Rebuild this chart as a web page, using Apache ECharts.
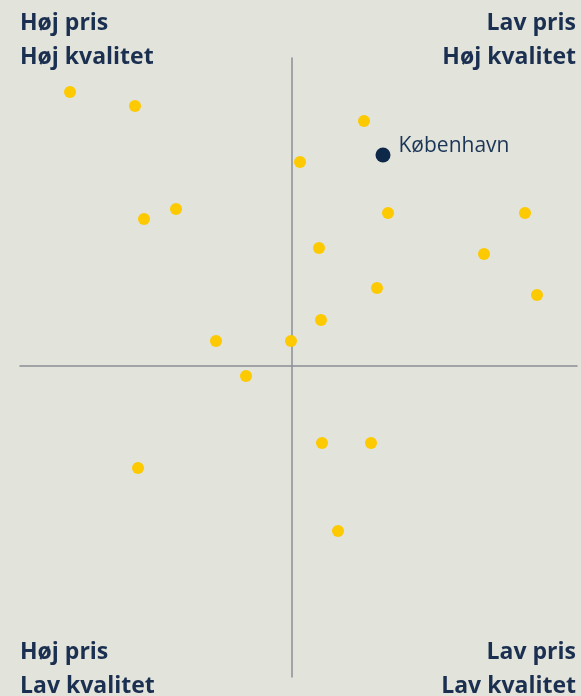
<!DOCTYPE html>
<html>
<head>
<meta charset="utf-8">
<script src="https://cdn.jsdelivr.net/npm/echarts@6/dist/echarts.min.js"></script>
<style>
html,body{margin:0;padding:0;background:#e2e3db;}
#chart{width:581px;height:696px;}
</style>
</head>
<body>
<div id="chart"></div>
<script>
// x: price position (negative = high price, positive = low price)
// y: quality position (positive = high quality)
const cityX = [-222, -157, 72, 8, -116, -148, 96, 233, 27, 192, 85, 245, 29, -76, -1, -46, 30, 79, -154, 46];
const cityY = [274, 260, 245, 204, 157, 147, 153, 153, 118, 112, 78, 71, 46, 25, 25, -10, -77, -77, -102, -165];
const highlightName = 'København';
const highlightX = [91];
const highlightY = [211];
const cornerLabels = {
  tl: ['Høj pris', 'Høj kvalitet'],
  tr: ['Lav pris', 'Høj kvalitet'],
  bl: ['Høj pris', 'Lav kvalitet'],
  br: ['Lav pris', 'Lav kvalitet']
};

const chart = echarts.init(document.getElementById('chart'));
const navy = '#1b2f50';
const font = 'bold 23px "Open Sans", sans-serif';

function txt(t, x, y, align) {
  return {type: 'text', style: {text: t, x: x, y: y, font: font, fill: navy, textAlign: align, textVerticalAlign: 'top'}};
}

chart.setOption({
  backgroundColor: '#e2e3db',
  animation: false,
  grid: {left: 20, right: 4, top: 58, bottom: 19},
  xAxis: {
    type: 'value', min: -272, max: 285,
    axisLine: {show: true, onZero: true, lineStyle: {color: '#8a8f94', width: 1.5}},
    axisTick: {show: false}, axisLabel: {show: false}, splitLine: {show: false}
  },
  yAxis: {
    type: 'value', min: -311, max: 308,
    axisLine: {show: true, onZero: true, lineStyle: {color: '#8a8f94', width: 1.5}},
    axisTick: {show: false}, axisLabel: {show: false}, splitLine: {show: false}
  },
  series: [
    {
      type: 'scatter', symbolSize: 12,
      itemStyle: {color: '#fdc900', opacity: 1},
      data: cityX.map((x, i) => [x, cityY[i]])
    },
    {
      type: 'scatter', symbolSize: 15,
      itemStyle: {color: '#0d2848', opacity: 1},
      label: {show: true, position: 'right', distance: 8, formatter: highlightName,
        color: '#1b3556', fontSize: 21, fontFamily: '"Open Sans", sans-serif', offset: [0, -9]},
      data: highlightX.map((x, i) => [x, highlightY[i]])
    }
  ],
  graphic: [
    txt(cornerLabels.tl[0], 20, 12, 'left'),
    txt(cornerLabels.tl[1], 20, 46, 'left'),
    txt(cornerLabels.tr[0], 576, 12, 'right'),
    txt(cornerLabels.tr[1], 576, 46, 'right'),
    txt(cornerLabels.bl[0], 20, 641, 'left'),
    txt(cornerLabels.bl[1], 20, 675, 'left'),
    txt(cornerLabels.br[0], 576, 641, 'right'),
    txt(cornerLabels.br[1], 576, 675, 'right')
  ]
});
</script>
</body>
</html>
